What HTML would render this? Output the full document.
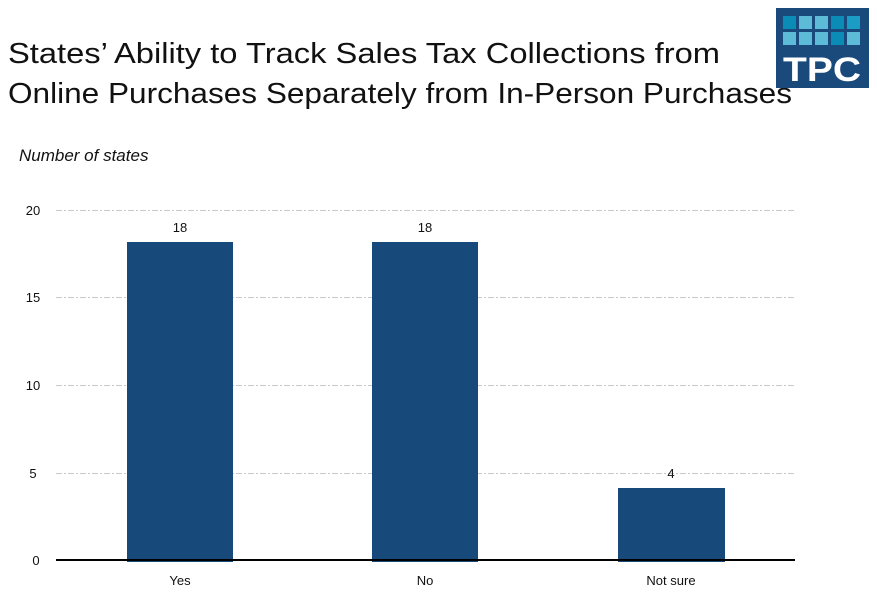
<!DOCTYPE html>
<html><head><meta charset="utf-8"><style>
body{margin:0;background:#fff;}
svg{display:block;}
</style></head><body>
<svg width="877" height="601" viewBox="0 0 877 601" xmlns="http://www.w3.org/2000/svg" font-family="Liberation Sans, sans-serif">
<text x="8" y="63" font-size="29" fill="#111" textLength="712" lengthAdjust="spacingAndGlyphs">States’ Ability to Track Sales Tax Collections from</text>
<text x="8" y="103" font-size="29" fill="#111" textLength="784" lengthAdjust="spacingAndGlyphs">Online Purchases Separately from In-Person Purchases</text>
<rect x="776" y="8" width="93" height="80" fill="#1a4a7c"/>
<g fill="#5dbbd7">
<rect x="783" y="16" width="13" height="13" fill="#0a8cb6"/><rect x="799" y="16" width="13" height="13"/><rect x="815" y="16" width="13" height="13"/><rect x="831" y="16" width="13" height="13" fill="#0a8cb6"/><rect x="847" y="16" width="13" height="13" fill="#1a9cc4"/>
<rect x="783" y="32" width="13" height="13"/><rect x="799" y="32" width="13" height="13"/><rect x="815" y="32" width="13" height="13"/><rect x="831" y="32" width="13" height="13" fill="#0a8cb6"/><rect x="847" y="32" width="13" height="13"/>
</g>
<text x="822" y="81" font-size="34" font-weight="bold" fill="#fff" text-anchor="middle" textLength="78" lengthAdjust="spacingAndGlyphs">TPC</text>
<text x="19" y="161" font-size="17" font-style="italic" fill="#111">Number of states</text>
<g stroke="#c8c8c8" stroke-width="1" stroke-dasharray="6,2,2,2">
<line x1="56" y1="210.5" x2="795" y2="210.5"/><line x1="56" y1="297.5" x2="795" y2="297.5"/><line x1="56" y1="385.5" x2="795" y2="385.5"/><line x1="56" y1="473.5" x2="795" y2="473.5"/>
</g>
<g font-size="13" fill="#111" text-anchor="middle">
<text x="33" y="215">20</text><text x="33" y="302">15</text><text x="33" y="390">10</text><text x="33" y="478">5</text><text x="36" y="565">0</text>
</g>
<g fill="#174a7a">
<rect x="127" y="242" width="106" height="320"/>
<rect x="372" y="242" width="106" height="320"/>
<rect x="618" y="488" width="107" height="74"/>
</g>
<line x1="56" y1="560" x2="795" y2="560" stroke="#000" stroke-width="2"/>
<g font-size="13" fill="#111" text-anchor="middle">
<text x="180" y="232">18</text><text x="425" y="232">18</text><text x="671" y="478">4</text>
<text x="180" y="585">Yes</text><text x="425" y="585">No</text><text x="671" y="585">Not sure</text>
</g>
</svg>
</body></html>
